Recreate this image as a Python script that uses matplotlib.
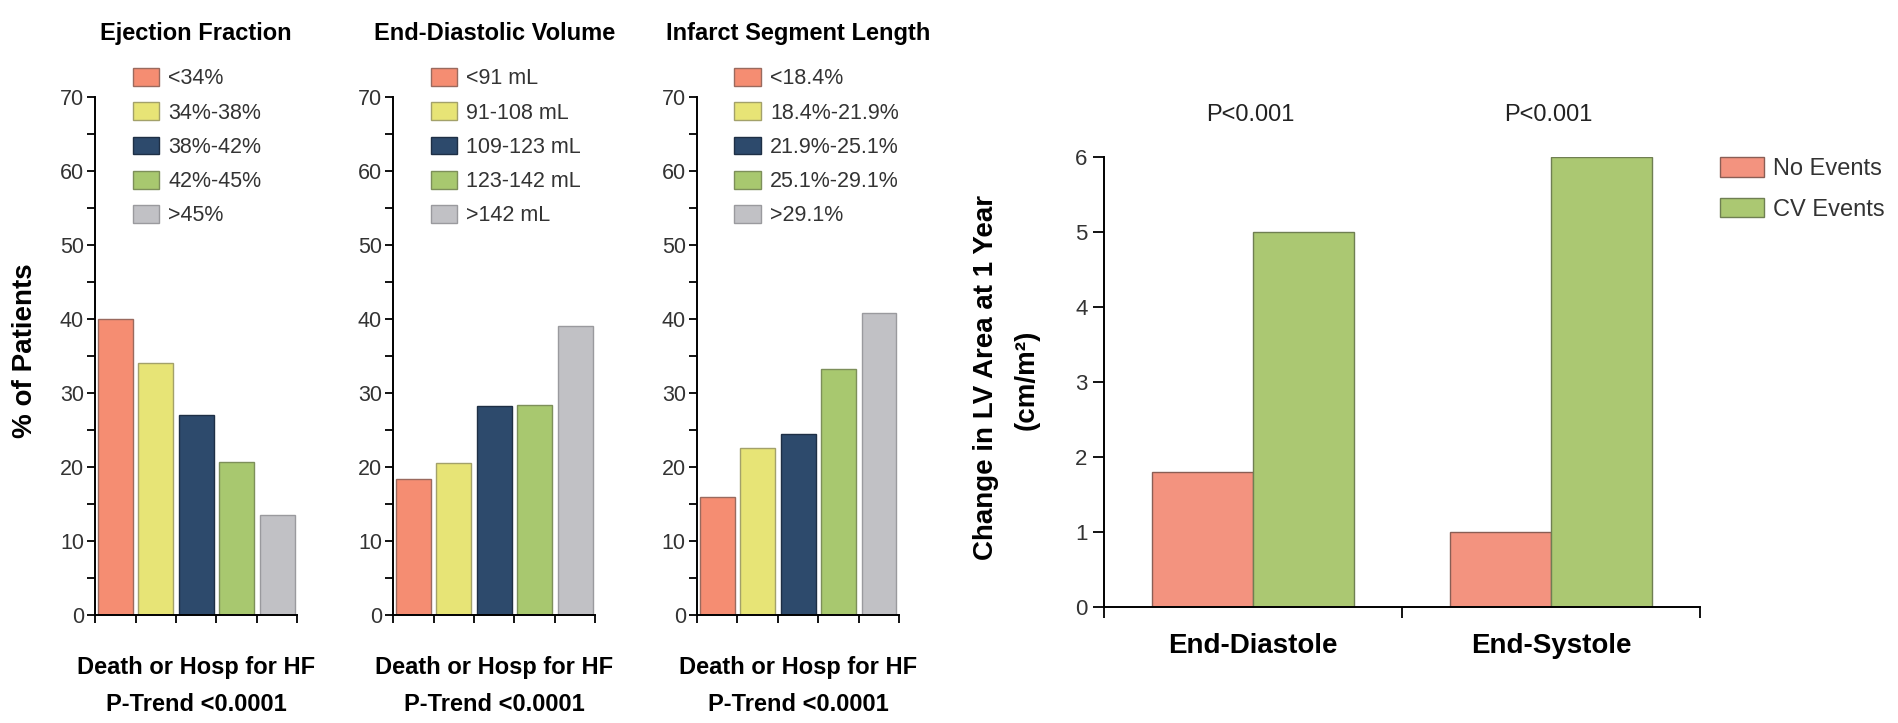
import numpy as np
import matplotlib
matplotlib.use("Agg")
from matplotlib import pyplot as plt
from matplotlib.patches import Patch

plt.rcParams['font.family'] = ['Liberation Sans', 'DejaVu Sans']

# left: event rates by quintile
panel_titles = ["Ejection Fraction", "End-Diastolic Volume", "Infarct Segment Length"]
ef_labels = ["<34%", "34%-38%", "38%-42%", "42%-45%", ">45%"]
ef_values = [40.0, 34.0, 27.0, 20.7, 13.5]
edv_labels = ["<91 mL", "91-108 mL", "109-123 mL", "123-142 mL", ">142 mL"]
edv_values = [18.4, 20.6, 28.3, 28.4, 39.0]
isl_labels = ["<18.4%", "18.4%-21.9%", "21.9%-25.1%", "25.1%-29.1%", ">29.1%"]
isl_values = [15.9, 22.5, 24.4, 33.2, 40.8]
outcome_label = "Death or Hosp for HF"
trend_label = "P-Trend <0.0001"

# right: change in LV area
phases = ["End-Diastole", "End-Systole"]
no_events = [1.8, 1.0]
cv_events = [5.0, 6.0]
p_labels = ["P<0.001", "P<0.001"]
group_names = ["No Events", "CV Events"]

quint_colors = ["#F58D72", "#E7E476", "#2D4A6C", "#A8C86F", "#C1C1C5"]
quint_edges = ["#9A6A5E", "#A3A16A", "#1E2F45", "#7D8F5A", "#9A9A9E"]
grp_colors = ["#F3937F", "#ABC872"]
grp_edges = ["#8A5E55", "#6F7F52"]

fig = plt.figure(figsize=(18.98, 7.23), dpi=100)

left_pos = [0.0501, 0.2071, 0.3672]
panels = [(ef_labels, ef_values), (edv_labels, edv_values), (isl_labels, isl_values)]

for i, (labels, values) in enumerate(panels):
    ax = fig.add_axes([left_pos[i], 0.1494, 0.1066, 0.7164])
    x = np.arange(len(values)) + 0.5
    ax.bar(x, values, width=0.86, color=quint_colors, edgecolor=quint_edges, linewidth=1.0)
    ax.set_xlim(0, 5)
    ax.set_ylim(0, 70)
    ax.set_yticks(np.arange(0, 71, 5))
    ax.set_yticklabels([str(v) if v % 10 == 0 else "" for v in range(0, 71, 5)])
    ax.set_xticks(np.arange(0, 6))
    ax.set_xticklabels([])
    for s in ["top", "right"]:
        ax.spines[s].set_visible(False)
    for s in ["left", "bottom"]:
        ax.spines[s].set_linewidth(1.4)
    ax.tick_params(axis="y", direction="out", length=6, width=1.3, labelsize=15.5,
                   labelcolor="#333333", pad=2)
    ax.tick_params(axis="x", direction="out", length=6, width=1.3)
    ax.text(0.5, 1.122, panel_titles[i], transform=ax.transAxes, ha="center",
            va="center", fontsize=17, fontweight="bold")
    ax.text(0.5, -0.102, outcome_label, transform=ax.transAxes, ha="center",
            va="center", fontsize=17, fontweight="bold")
    ax.text(0.5, -0.173, trend_label, transform=ax.transAxes, ha="center",
            va="center", fontsize=17, fontweight="bold")
    handles = [Patch(facecolor=c, edgecolor=e, linewidth=1.0)
               for c, e in zip(quint_colors, quint_edges)]
    ax.legend(handles, labels, loc="upper left", bbox_to_anchor=(0.185, 1.056),
              frameon=False, fontsize=15.5, handlelength=1.25, handleheight=0.9,
              handletextpad=0.4, labelspacing=0.6, borderpad=0, borderaxespad=0,
              labelcolor="#333333")

fig.text(25 / 1898, 1 - 351 / 723, "% of Patients", rotation=90, ha="center",
         va="center", fontsize=20, fontweight="bold")

# right panel
ax = fig.add_axes([0.5817, 0.1604, 0.3140, 0.6224])
centers = np.array([0.5, 1.5])
bw = 0.34
ax.bar(centers - bw / 2, no_events, width=bw, color=grp_colors[0], edgecolor=grp_edges[0],
       linewidth=1.0, label=group_names[0])
ax.bar(centers + bw / 2, cv_events, width=bw, color=grp_colors[1], edgecolor=grp_edges[1],
       linewidth=1.0, label=group_names[1])
ax.set_xlim(0, 2)
ax.set_ylim(0, 6)
ax.set_yticks(range(0, 7))
ax.set_xticks([0, 1, 2])
ax.set_xticklabels([])
for s in ["top", "right"]:
    ax.spines[s].set_visible(False)
for s in ["left", "bottom"]:
    ax.spines[s].set_linewidth(1.4)
ax.tick_params(axis="y", direction="out", length=8, width=1.3, labelsize=16,
               labelcolor="#333333", pad=4)
ax.tick_params(axis="x", direction="out", length=8, width=1.3)
for c, name in zip(centers, phases):
    ax.text(c, -0.086, name, transform=ax.get_xaxis_transform(), ha="center",
            va="center", fontsize=20, fontweight="bold")
for c, p in zip(centers, p_labels):
    ax.text(c - 0.01, 1.093, p, transform=ax.get_xaxis_transform(), ha="center",
            va="center", fontsize=17, color="#222222")
ax.legend(loc="upper left", bbox_to_anchor=(1.034, 1.0), frameon=False, fontsize=17,
          handlelength=1.85, handleheight=0.9, handletextpad=0.38, labelspacing=0.75,
          borderpad=0, borderaxespad=0, labelcolor="#333333")

fig.text(986 / 1898, 1 - 377 / 723, "Change in LV Area at 1 Year", rotation=90,
         ha="center", va="center", fontsize=20, fontweight="bold")
fig.text(1027 / 1898, 1 - 380 / 723, "(cm/m²)", rotation=90,
         ha="center", va="center", fontsize=20, fontweight="bold")

fig.savefig("out.png", dpi=100)
